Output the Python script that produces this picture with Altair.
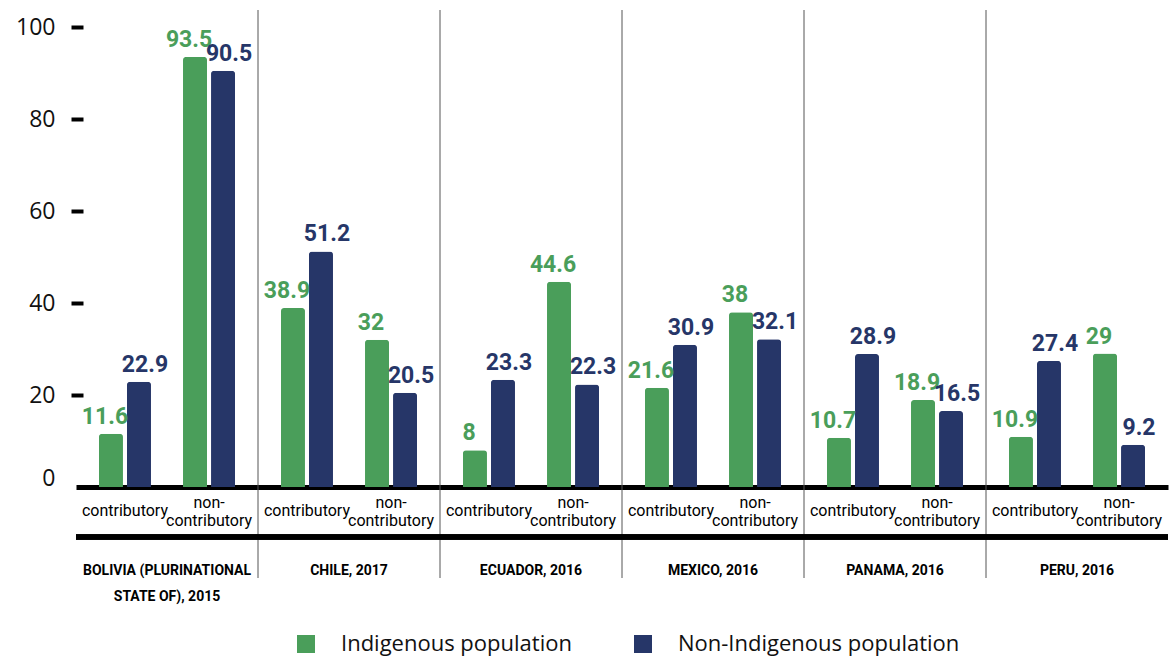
import altair as alt
import pandas as pd

countries = ["BOLIVIA (PLURINATIONAL\nSTATE OF), 2015", "CHILE, 2017", "ECUADOR, 2016",
             "MEXICO, 2016", "PANAMA, 2016", "PERU, 2016"]
indig_contrib = [11.6, 38.9, 8, 21.6, 10.7, 10.9]
nonindig_contrib = [22.9, 51.2, 23.3, 30.9, 28.9, 27.4]
indig_noncontrib = [93.5, 32, 44.6, 38, 18.9, 29]
nonindig_noncontrib = [90.5, 20.5, 22.3, 32.1, 16.5, 9.2]

populations = ["Indigenous population", "Non-Indigenous population"]
colors = ["#4A9E5A", "#263668"]
slots = ["c_ind", "c_non", "gap", "n_ind", "n_non"]
sub_names = ["contributory", "non-\ncontributory"]
y_ticks = [0, 20, 40, 60, 80, 100]

rows = []
for i, c in enumerate(countries):
    for slot, pop, v in [("c_ind", populations[0], indig_contrib[i]),
                         ("c_non", populations[1], nonindig_contrib[i]),
                         ("n_ind", populations[0], indig_noncontrib[i]),
                         ("n_non", populations[1], nonindig_noncontrib[i])]:
        rows.append({"country": c, "slot": slot, "population": pop, "value": v, "label": f"{v:g}"})
df = pd.DataFrame(rows)

contrib_df = pd.DataFrame({"country": countries, "slot": "c_non", "text": sub_names[0]})
noncontrib_df = pd.DataFrame({"country": countries, "slot": "n_non", "text": sub_names[1]})
country_df = pd.DataFrame({"country": countries})
sep_df = pd.DataFrame({"country": countries[1:]})

COND = "Roboto"

x_scale = alt.Scale(domain=countries, paddingInner=0, paddingOuter=0)
x_enc = alt.X("country:N", sort=countries, scale=x_scale,
              axis=alt.Axis(title=None, labels=False, domainColor="black", domainWidth=5, ticks=False))
xo_enc = alt.XOffset("slot:N", scale=alt.Scale(domain=slots, paddingInner=0.143, paddingOuter=0.82))
y_enc = alt.Y("value:Q", scale=alt.Scale(domain=[0, 100]),
              axis=alt.Axis(values=y_ticks, title=None, domain=False, grid=False, tickSize=12, tickWidth=4,
                            tickColor="black", labelFont="Open Sans", labelFontSize=23, labelColor="#111",
                            labelPadding=16, offset=-7,
                            labelOffset={"condition": {"test": "datum.value === 0", "value": -9}, "value": 0},
                            tickOpacity={"condition": {"test": "datum.value === 0", "value": 0}, "value": 1}))

bars = alt.Chart(df).mark_bar(cornerRadiusTopLeft=3, cornerRadiusTopRight=3).encode(
    x=x_enc, xOffset=xo_enc, y=y_enc,
    color=alt.Color("population:N", scale=alt.Scale(domain=populations, range=colors),
                    legend=alt.Legend(title=None, orient="none", direction="horizontal", legendX=219,
                                      legendY=606, symbolType="square", symbolSize=324, symbolStrokeWidth=0,
                                      symbolOpacity=1, labelFont="Open Sans", labelFontSize=22,
                                      labelColor="#111", labelOffset=24, columnPadding=60, padding=0,
                                      labelLimit=400)),
)

lab_ind = alt.Chart(df).transform_filter(alt.datum.population == populations[0]).mark_text(
    font=COND, fontWeight="bold", fontSize=23, baseline="alphabetic", dy=-10, dx=-6, color=colors[0]
).encode(x=alt.X("country:N", sort=countries), xOffset="slot:N", y="value:Q", text="label:N")

lab_non = alt.Chart(df).transform_filter(alt.datum.population == populations[1]).mark_text(
    font=COND, fontWeight="bold", fontSize=23, baseline="alphabetic", dy=-10, dx=6, color=colors[1]
).encode(x=alt.X("country:N", sort=countries), xOffset="slot:N", y="value:Q", text="label:N")

contrib_labels = alt.Chart(contrib_df).mark_text(
    font=COND, fontSize=16, baseline="middle", dx=-14, color="black"
).encode(x=alt.X("country:N", sort=countries), xOffset="slot:N", y=alt.value(484), text="text:N")

noncontrib_labels = alt.Chart(noncontrib_df).mark_text(
    font=COND, fontSize=16, baseline="middle", lineBreak="\n", lineHeight=18, dx=-14, color="black"
).encode(x=alt.X("country:N", sort=countries), xOffset="slot:N", y=alt.value(476), text="text:N")

country_labels = alt.Chart(country_df).mark_text(
    font=COND, fontSize=14, fontWeight="bold", baseline="middle", lineBreak="\n", lineHeight=26, color="black"
).encode(x=alt.X("country:N", sort=countries), y=alt.value(544), text="country:N")

line2 = alt.Chart(sep_df).mark_rule(color="black", strokeWidth=5).encode(
    x=alt.value(0), x2=alt.value(1092), y=alt.value(510))

seps = alt.Chart(sep_df).mark_rule(color="#555", strokeWidth=1).encode(
    x=alt.X("country:N", sort=countries, bandPosition=0), y=alt.value(-17), y2=alt.value(551))

chart = alt.layer(seps, bars, lab_ind, lab_non, contrib_labels, noncontrib_labels, country_labels, line2).properties(
    width=1092, height=460,
    autosize=alt.AutoSizeParams(type="none"),
    padding={"left": 76, "top": 27, "right": 4, "bottom": 170},
).configure_view(stroke=None)

chart.save("out.html", embed_options={"renderer": "svg", "actions": False})
